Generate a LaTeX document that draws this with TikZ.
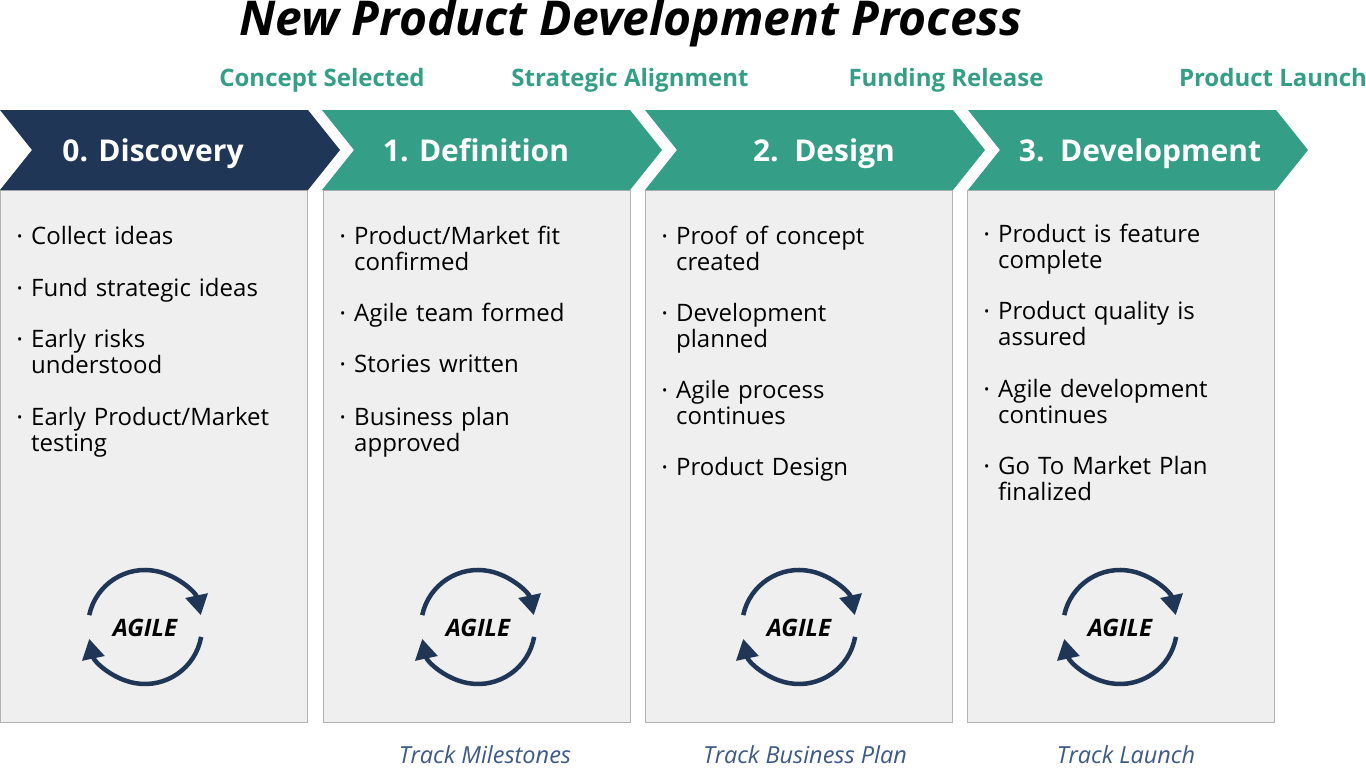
\documentclass[tikz,border=0pt]{standalone}
\usepackage{fontspec}
\setmainfont{Open Sans}
\usetikzlibrary{arrows.meta}
\definecolor{navy}{HTML}{1F3657}
\definecolor{teal}{HTML}{359E86}
\definecolor{panel}{HTML}{EFEFEF}
\definecolor{trk}{HTML}{3D5A86}
\begin{document}
\begin{tikzpicture}[x=1pt,y=-1pt,
 panelbox/.style={fill=panel,draw=gray!60,line width=0.8pt},
 head/.style={text=white,font=\fontsize{30}{33}\selectfont\bfseries,anchor=base},
 mile/.style={text=teal,font=\fontsize{24}{28}\selectfont\bfseries,anchor=base},
 trackl/.style={text=trk,font=\fontsize{23.5}{27}\selectfont\itshape,anchor=base},
 item/.style={anchor=north west,align=left,text width=280pt,inner sep=0pt,font=\fontsize{24}{26}\selectfont},
 loop/.style={navy,line width=4.5pt,-{Triangle[length=20pt,width=22pt]}},
 agile/.style={font=\fontsize{24}{26}\selectfont\bfseries\itshape}]
\useasboundingbox (0,0) rectangle (1366,768);
\fill[white] (0,0) rectangle (1366,768);
\node[font=\fontsize{48}{54}\selectfont\bfseries\itshape,anchor=base] (title) at (631,36) {New Product Development Process};
\node[mile] (m1) at (322,86) {Concept Selected};
\node[mile] (m2) at (630,86) {Strategic Alignment};
\node[mile] (m3) at (946,86) {Funding Release};
\node[mile] (m4) at (1273,86) {Product Launch};
% panels
\foreach \x/\n in {0/p0,323/p1,645/p2,967/p3}{
  \draw[panelbox] (\x,190) rectangle ++(307,532);
}
% chevrons
\fill[navy] (0,110) -- (308,110) -- (340,150) -- (308,190) -- (0,190) -- (32,150) -- cycle;
\foreach \x in {322,645,968}{
  \fill[teal] (\x,110) -- (\x+308,110) -- (\x+340,150) -- (\x+308,190) -- (\x,190) -- (\x+32,150) -- cycle;
}
\node[head] (h0) at (153,161) {0. Discovery};
\node[head] (h1) at (476,161) {1. Definition};
\node[head] (h2) at (824,161) {2.\ \ Design};
\node[head] (h3) at (1140,161) {3.\ \ Development};
% items
\newcommand\itm[4]{\node[item] (#1) at (#2,#3) {\makebox[14pt][l]{\fontsize{14}{14}\selectfont\raisebox{3pt}{\textbullet}}\parbox[t]{260pt}{#4}};}
\itm{a1}{17}{226}{Collect ideas}
\itm{a2}{17}{278}{Fund strategic ideas}
\itm{a3}{17}{329}{Early risks\\understood}
\itm{a4}{17}{407}{Early Product/Market\\testing}
\itm{b1}{340}{226}{Product/Market fit\\confirmed}
\itm{b2}{340}{303}{Agile team formed}
\itm{b3}{340}{355}{Stories written}
\itm{b4}{340}{407}{Business plan\\approved}
\itm{c1}{662}{226}{Proof of concept\\created}
\itm{c2}{662}{303}{Development\\planned}
\itm{c3}{662}{380}{Agile process\\continues}
\itm{c4}{662}{457}{Product Design}
\itm{d1}{984}{224}{Product is feature\\complete}
\itm{d2}{984}{301}{Product quality is\\assured}
\itm{d3}{984}{379}{Agile development\\continues}
\itm{d4}{984}{456}{Go To Market Plan\\finalized}
% agile loops
\foreach \cx/\n in {145/g0,478/g1,799/g2,1120/g3}{
  \draw[loop] (\cx,627) ++(-168:57) arc[start angle=-168,end angle=-12,radius=57];
  \draw[loop] (\cx,627) ++(10:57) arc[start angle=10,end angle=168,radius=57];
  \node[agile] (\n) at (\cx,628) {AGILE};
}
\node[trackl] (t1) at (485,763) {Track Milestones};
\node[trackl] (t2) at (805,763) {Track Business Plan};
\node[trackl] (t3) at (1126,763) {Track Launch};
\end{tikzpicture}
\end{document}
